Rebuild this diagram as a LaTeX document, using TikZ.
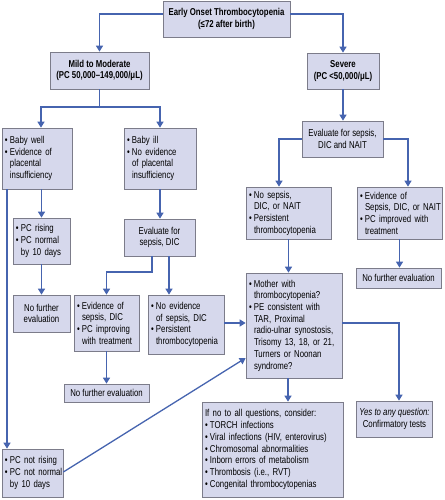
\documentclass[tikz,border=0pt]{standalone}
\usepackage{fontspec}
\setmainfont{Liberation Sans}[FakeStretch=0.78]
\usetikzlibrary{arrows.meta}
\definecolor{boxfill}{HTML}{D6D8EC}
\definecolor{bord}{HTML}{7C7C8A}
\definecolor{lnk}{HTML}{4664AF}
\newcommand\bu[1]{\makebox[5pt][l]{•}\mbox{#1}}
\newcommand\ct[1]{\hspace*{5pt}\mbox{#1}}
\begin{document}
\begin{tikzpicture}[x=1pt,y=-1pt,
  box/.style={draw=bord, fill=boxfill, line width=0.7pt, inner xsep=3pt, inner ysep=2pt,
    font=\fontsize{10}{11.7}\selectfont},
  cbox/.style={box, align=center},
  bbox/.style={box, align=center, font=\fontsize{10}{11.7}\selectfont\bfseries},
  lbox/.style={box, align=left},
  link/.style={draw=lnk, line width=1.3pt},
  arr/.style={link, -{Triangle[width=7pt,length=6pt]}}]
\useasboundingbox (0,0) rectangle (444,500);

% nodes
\node[bbox, minimum width=127pt, minimum height=36pt] (top) at (226.5,19)
  {Early Onset Thrombocytopenia\\(≤72 after birth)};
\node[bbox, minimum width=99pt, minimum height=37pt] (mild) at (99.5,70.5)
  {Mild to Moderate\\(PC 50,000–149,000/μL)};
\node[bbox, minimum width=72pt, minimum height=36pt] (severe) at (343,71)
  {Severe\\(PC <50,000/μL)};
\node[cbox, minimum width=81pt, minimum height=36pt] (evalS) at (342.5,139)
  {Evaluate for sepsis,\\DIC and NAIT};
\node[lbox, text width=64pt, minimum height=61pt] (babywell) at (37,158.5)
  {\bu{Baby well}\\\bu{Evidence of}\\\ct{placental}\\\ct{insufficiency}};
\node[lbox, text width=66pt, minimum height=61pt] (babyill) at (160,158.5)
  {\bu{Baby ill}\\\bu{No evidence}\\\ct{of placental}\\\ct{insufficiency}};
\node[lbox, text width=51pt, minimum height=46pt] (pcrising) at (41.5,241)
  {\bu{PC rising}\\\bu{PC normal}\\\ct{by 10 days}};
\node[cbox, minimum width=71pt, minimum height=37pt] (evalM) at (159.5,237.5)
  {Evaluate for\\sepsis, DIC};
\node[lbox, text width=79pt, minimum height=52pt] (nosepsis) at (288.5,213)
  {\bu{No sepsis,}\\\ct{DIC, or NAIT}\\\bu{Persistent}\\\ct{thrombocytopenia}};
\node[lbox, text width=79pt, minimum height=52pt] (evidS) at (399.5,213)
  {\bu{Evidence of}\\\ct{Sepsis, DIC, or NAIT}\\\bu{PC improved with}\\\ct{treatment}};
\node[cbox, minimum width=85pt, minimum height=20pt] (nfeS) at (398.5,278)
  {No further evaluation};
\node[lbox, text width=90pt, minimum height=105pt] (mother) at (294,325.5)
  {\bu{Mother with}\\\ct{thrombocytopenia?}\\\bu{PE consistent with}\\\ct{TAR, Proximal}\\\ct{radio-ulnar synostosis,}\\\ct{Trisomy 13, 18, or 21,}\\\ct{Turners or Noonan}\\\ct{syndrome?}};
\node[cbox, minimum width=57pt, minimum height=37pt] (nfe1) at (41.5,313.5)
  {No further\\evaluation};
\node[lbox, text width=59pt, minimum height=56pt] (evidM) at (106.5,323)
  {\bu{Evidence of}\\\ct{sepsis, DIC}\\\bu{PC improving}\\\ct{with treatment}};
\node[lbox, text width=70pt, minimum height=59pt] (noevid) at (186,324.5)
  {\bu{No evidence}\\\ct{of sepsis, DIC}\\\bu{Persistent}\\\ct{thrombocytopenia}};
\node[cbox, minimum width=85pt, minimum height=18pt] (nfe2) at (106.5,393)
  {No further evaluation};
\node[lbox, text width=135pt, minimum height=95pt] (consider) at (272.5,449.5)
  {\mbox{If no to all questions, consider:}\\\bu{TORCH infections}\\\bu{Viral infections (HIV, enterovirus)}\\\bu{Chromosomal abnormalities}\\\bu{Inborn errors of metabolism}\\\bu{Thrombosis (i.e., RVT)}\\\bu{Congenital thrombocytopenias}};
\node[cbox, minimum width=75pt, minimum height=36pt] (yes) at (394.5,419)
  {\textit{Yes to any question:}\\Confirmatory tests};
\node[lbox, text width=55pt, minimum height=48pt] (pcnot) at (32.5,473)
  {\bu{PC not rising}\\\bu{PC not normal}\\\ct{by 10 days}};

% junctions
\coordinate (j1) at (99.5,107);
\coordinate (j2) at (152,272);

% connectors
\draw[arr] ([yshift=5pt]top.west) -| (mild.north);
\draw[arr] ([yshift=5pt]top.east) -| (severe.north);
\draw[link] (mild.south) -- (j1);
\draw[arr] (j1) -| ([xshift=4pt]babywell.north);
\draw[arr] (j1) -| (babyill.north);
\draw[arr] (severe.south) -- (severe.south |- evalS.north);
\draw[arr] (evalS.west) -| ([xshift=-9.5pt]nosepsis.north);
\draw[arr] (evalS.east) -| ([xshift=8.5pt]evidS.north);
\draw[arr] (babywell.south -| pcrising.north) -- (pcrising.north);
\draw[arr] ([xshift=-30pt]babywell.south) -- ([xshift=-30pt]babywell.south |- pcnot.north);
\draw[arr] (babyill.south) -- (babyill.south |- evalM.north);
\draw[arr] (j2 |- evalM.south) -- (j2) -| (evidM.north);
\draw[arr] ([xshift=9.5pt]evalM.south) -- ([xshift=9.5pt]evalM.south |- noevid.north);
\draw[arr] (pcrising.south) -- (nfe1.north);
\draw[arr] (evidM.south) -- (nfe2.north);
\draw[arr] ([yshift=1.5pt]noevid.east) -- ([yshift=1.5pt]noevid.east -| mother.west);
\draw[arr] ([yshift=1pt]pcnot.east) -- ([yshift=-32.5pt]mother.west);
\draw[arr] (nosepsis.south) -- (nosepsis.south |- mother.north);
\draw[arr] (evidS.south) -- (evidS.south |- nfeS.north);
\draw[arr] ([xshift=-6pt]mother.south) -- ([xshift=-6pt]mother.south |- consider.north);
\draw[arr] ([yshift=2.5pt]mother.east) -| ([xshift=4.5pt]yes.north);
\end{tikzpicture}
\end{document}
